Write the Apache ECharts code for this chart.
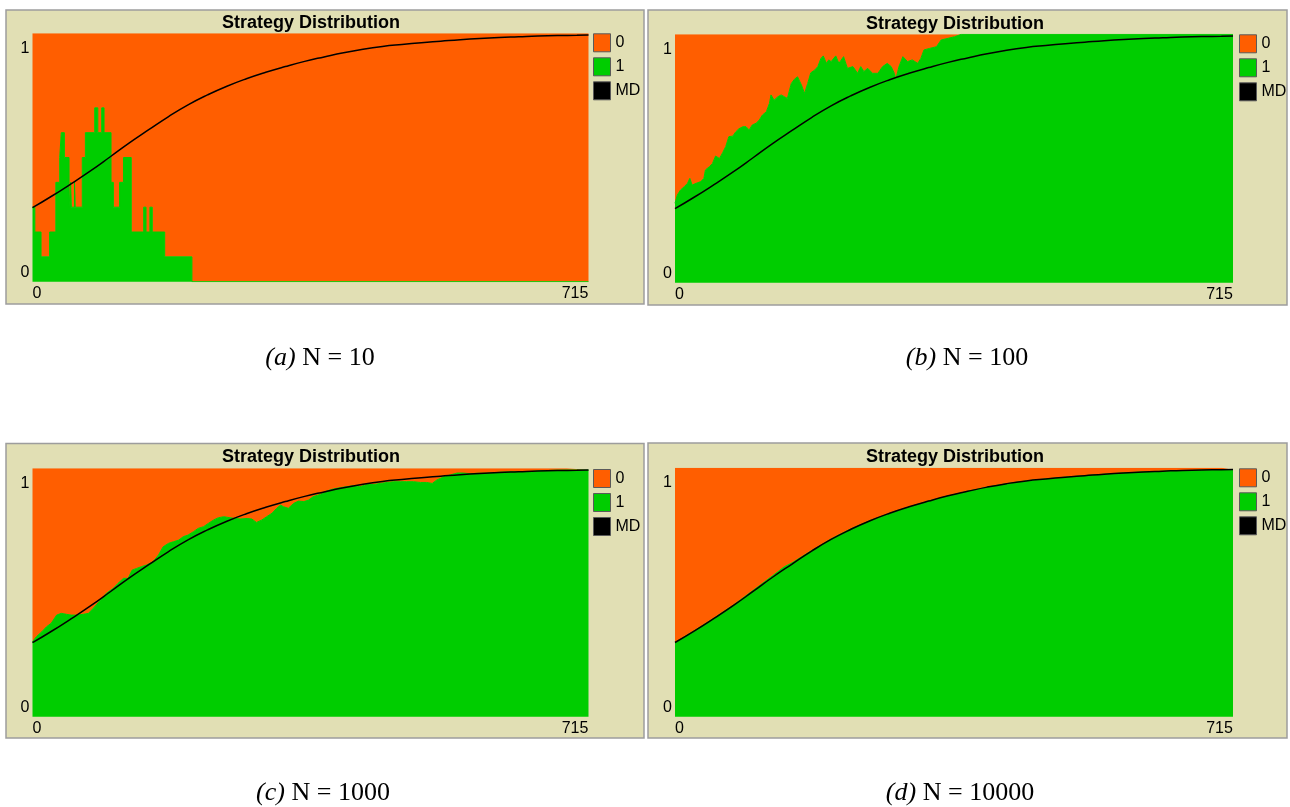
<!DOCTYPE html>
<html>
<head>
<meta charset="utf-8">
<script src="https://cdn.jsdelivr.net/npm/echarts@6/dist/echarts.min.js"></script>
<style>
html,body{margin:0;padding:0;background:#ffffff;}
#chart{width:1290px;height:807px;}
</style>
</head>
<body>
<div id="chart"></div>
<script>
// ---------------- DATA ----------------
const xTicks = [0, 715];
const yTicks = [0, 1];
const legendNames = ['0', '1', 'MD'];
const plotTitle = 'Strategy Distribution';
const captionLetters = ['(a)', '(b)', '(c)', '(d)'];
const captionTexts = [' N = 10', ' N = 100', ' N = 1000', ' N = 10000'];

// MD (mean dynamics) curve: [tick, share]
const mdCurve = [[0,0.298],[25,0.345],[50,0.395],[75,0.447],[100,0.503],[125,0.560],[150,0.613],[175,0.665],[200,0.712],[225,0.752],[250,0.787],[275,0.817],[300,0.843],[325,0.866],[350,0.887],[375,0.905],[400,0.922],[425,0.936],[450,0.947],[475,0.955],[500,0.962],[525,0.968],[550,0.974],[575,0.979],[600,0.983],[625,0.986],[650,0.989],[675,0.991],[700,0.992],[715,0.993]];

// Share of strategy 1 (rest is strategy 0), [tick, share]
const share1N10 = [[0,0.3],[3,0.2],[11,0.1],[22,0.2],[30,0.4],[35,0.5],[37,0.6],[41,0.5],[47,0.3],[49,0.4],[50,0.3],[54,0.4],[55,0.3],[64,0.5],[68,0.6],[80,0.7],[84,0.6],[89,0.7],[92,0.6],[101,0.4],[104,0.3],[112,0.4],[117,0.5],[127,0.2],[143,0.3],[146,0.2],[151,0.3],[154,0.2],[170,0.1],[205,0],[715,0]];

const share1N100 = [[0,0.32],[3,0.353],[7,0.373],[12,0.387],[16,0.40],[19,0.42],[22,0.393],[27,0.40],[33,0.407],[37,0.42],[39,0.454],[44,0.467],[48,0.48],[52,0.51],[57,0.50],[61,0.523],[65,0.548],[69,0.588],[74,0.59],[78,0.608],[82,0.62],[87,0.628],[91,0.628],[95,0.615],[99,0.635],[104,0.642],[108,0.655],[112,0.675],[117,0.688],[121,0.722],[123,0.756],[127,0.735],[132,0.749],[136,0.756],[140,0.749],[144,0.742],[149,0.802],[153,0.819],[157,0.829],[162,0.796],[166,0.762],[170,0.802],[174,0.845],[179,0.856],[183,0.87],[187,0.903],[190,0.913],[194,0.883],[197,0.897],[200,0.89],[206,0.913],[210,0.883],[216,0.91],[221,0.863],[228,0.87],[234,0.843],[238,0.87],[242,0.85],[247,0.863],[253,0.843],[260,0.843],[266,0.87],[272,0.883],[277,0.87],[281,0.843],[283,0.819],[287,0.87],[292,0.91],[298,0.89],[304,0.897],[311,0.883],[315,0.903],[319,0.937],[326,0.943],[335,0.95],[341,0.977],[350,0.984],[358,0.99],[367,1.0],[715,1.0]];

const share1N1000 = [[0,0.302],[5,0.322],[12,0.342],[18,0.362],[24,0.376],[31,0.409],[37,0.416],[44,0.412],[50,0.409],[57,0.409],[65,0.412],[72,0.416],[78,0.436],[82,0.45],[89,0.476],[95,0.497],[104,0.517],[110,0.537],[117,0.557],[123,0.557],[128,0.59],[134,0.597],[140,0.604],[147,0.611],[155,0.624],[162,0.651],[168,0.684],[175,0.698],[181,0.704],[188,0.711],[194,0.725],[200,0.731],[207,0.745],[213,0.758],[220,0.765],[226,0.778],[233,0.792],[239,0.801],[246,0.805],[254,0.801],[261,0.798],[267,0.796],[276,0.798],[282,0.796],[288,0.782],[295,0.792],[301,0.805],[308,0.819],[314,0.839],[319,0.852],[323,0.845],[329,0.839],[336,0.859],[342,0.868],[349,0.866],[355,0.872],[361,0.886],[370,0.895],[379,0.909],[387,0.917],[396,0.922],[404,0.926],[413,0.93],[421,0.926],[430,0.935],[439,0.935],[447,0.939],[456,0.943],[464,0.946],[473,0.946],[481,0.946],[490,0.946],[499,0.943],[507,0.943],[514,0.939],[520,0.953],[529,0.966],[537,0.973],[546,0.981],[554,0.981],[563,0.978],[571,0.98],[584,0.98],[601,0.984],[618,0.986],[636,0.986],[653,0.99],[670,0.992],[687,0.993],[715,0.993]];

const share1N10000 = [[0,0.298],[25,0.346],[50,0.396],[75,0.449],[100,0.507],[125,0.566],[140,0.602],[150,0.618],[175,0.667],[200,0.714],[225,0.754],[250,0.788],[275,0.817],[300,0.843],[325,0.866],[350,0.887],[375,0.905],[400,0.922],[425,0.936],[450,0.947],[475,0.955],[500,0.962],[525,0.968],[550,0.974],[575,0.979],[600,0.983],[625,0.986],[650,0.988],[675,0.99],[700,0.991],[715,0.992]];

const panelShares = [share1N10, share1N100, share1N1000, share1N10000];
const panelSteps = ['end', false, false, false];

// ---------------- LAYOUT / STYLE ----------------
const ORANGE = '#ff5e00';
const GREEN = '#00cd00';
const TAN = '#e1dfb4';
const SANS = '"Liberation Sans", Arial, sans-serif';
const SERIF = '"Liberation Serif", "DejaVu Serif", serif';

const layout = [
  {grid:{left:32.5, top:33.3, width:556, height:248.4}, frame:[6,10,638,294], title:[311,23], legend:[593,33.3], caption:[320,358]},
  {grid:{left:675, top:34.3, width:558, height:248.4}, frame:[648,10,639,295], title:[955,24], legend:[1239,34.3], caption:[967,358]},
  {grid:{left:32.5, top:468.3, width:556, height:248.4}, frame:[6,443.5,638,294.5], title:[311,457.5], legend:[593,469], caption:[323,793]},
  {grid:{left:675, top:467.7, width:558, height:249}, frame:[648,443,639,295], title:[955,457], legend:[1239,468.3], caption:[960,793]}
];

const grids = [], xAxes = [], yAxes = [], series = [], legends = [], graphics = [];

layout.forEach((L, i) => {
  grids.push(Object.assign({show:false}, L.grid));
  xAxes.push({
    type:'value', gridIndex:i, min:xTicks[0], max:xTicks[1], interval:xTicks[1]-xTicks[0],
    axisLine:{show:false}, axisTick:{show:false}, splitLine:{show:false},
    axisLabel:{
      margin:4, color:'#000', fontSize:16, fontFamily:SANS,
      formatter: v => v === xTicks[0] ? '{l|' + v + '}' : '{r|' + v + '}',
      rich:{
        l:{padding:[0,0,0,9], fontSize:16, fontFamily:SANS, color:'#000'},
        r:{padding:[0,27,0,0], fontSize:16, fontFamily:SANS, color:'#000'}
      }
    }
  });
  yAxes.push({
    type:'value', gridIndex:i, min:yTicks[0], max:yTicks[1], interval:yTicks[1]-yTicks[0],
    axisLine:{show:false}, axisTick:{show:false}, splitLine:{show:false},
    axisLabel:{
      margin:3, color:'#000', fontSize:16, fontFamily:SANS,
      formatter: v => v === yTicks[1] ? '{t|' + v + '}' : '{b|' + v + '}',
      rich:{
        t:{padding:[30,0,0,0], fontSize:16, fontFamily:SANS, color:'#000'},
        b:{padding:[0,0,18,0], fontSize:16, fontFamily:SANS, color:'#000'}
      }
    }
  });
  const d = panelShares[i];
  series.push({
    name:legendNames[0], type:'line', xAxisIndex:i, yAxisIndex:i, data:d, step:panelSteps[i],
    showSymbol:false, silent:true, z:1,
    lineStyle:{width:0, color:ORANGE}, itemStyle:{color:ORANGE},
    areaStyle:{color:ORANGE, opacity:1, origin:'end'}
  });
  series.push({
    name:legendNames[1], type:'line', xAxisIndex:i, yAxisIndex:i, data:d, step:panelSteps[i],
    showSymbol:false, silent:true, z:2,
    lineStyle:{width:1, color:GREEN}, itemStyle:{color:GREEN},
    areaStyle:{color:GREEN, opacity:1, origin:'start'}
  });
  series.push({
    name:legendNames[2], type:'line', xAxisIndex:i, yAxisIndex:i, data:mdCurve, smooth:true,
    showSymbol:false, silent:true, z:3,
    lineStyle:{width:1.5, color:'#000'}, itemStyle:{color:'#000'}
  });
  legends.push({
    data:legendNames, orient:'vertical', left:L.legend[0], top:L.legend[1], padding:0,
    icon:'rect', itemWidth:17, itemHeight:18, itemGap:5, selectedMode:false,
    itemStyle:{borderColor:'#5a5a5a', borderWidth:1},
    textStyle:{fontSize:16, fontFamily:SANS, color:'#000', padding:[0,0,0,0]}
  });
  graphics.push({
    type:'rect', z:-10, shape:{x:L.frame[0], y:L.frame[1], width:L.frame[2], height:L.frame[3]},
    style:{fill:TAN, stroke:'#9d9d9d', lineWidth:1.5}
  });
  graphics.push({
    type:'text', z:10, x:L.title[0], y:L.title[1],
    style:{text:plotTitle, align:'center', verticalAlign:'middle', fill:'#000',
      font:'bold 18px ' + SANS}
  });
  graphics.push({
    type:'text', z:10, x:L.caption[0], y:L.caption[1],
    style:{
      text:'{i|' + captionLetters[i] + '}{n|' + captionTexts[i] + '}',
      align:'center', verticalAlign:'middle', fill:'#000',
      font:'26px ' + SERIF,
      rich:{
        i:{fontStyle:'italic', fontSize:26, fontFamily:SERIF, fill:'#000'},
        n:{fontSize:26, fontFamily:SERIF, fill:'#000'}
      }
    }
  });
});

const chart = echarts.init(document.getElementById('chart'), null, {renderer:'canvas'});
chart.setOption({
  animation:false,
  backgroundColor:'#ffffff',
  grid:grids, xAxis:xAxes, yAxis:yAxes, series:series, legend:legends,
  graphic:graphics
});
</script>
</body>
</html>
